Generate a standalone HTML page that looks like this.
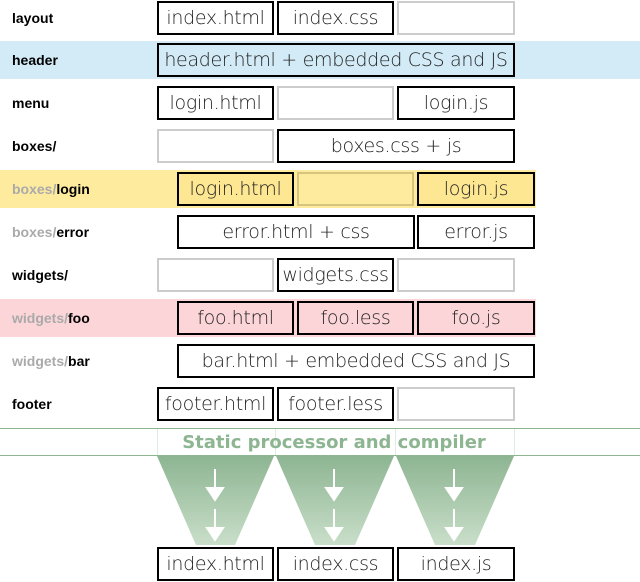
<!DOCTYPE html>
<html><head><meta charset="utf-8"><style>
body{margin:0;width:640px;height:582px;position:relative;background:#fff;font-family:"Liberation Sans",sans-serif;overflow:hidden}
.b{position:absolute;box-sizing:border-box;height:34px;border:2px solid #000;font-size:19px;color:#222;text-align:center;line-height:30px;font-family:"DejaVu Sans","Liberation Sans",sans-serif;font-weight:200;white-space:nowrap;letter-spacing:-0.3px}
.g{border-color:#ccc}
.l{position:absolute;left:12px;font-weight:bold;font-size:14px;color:#000;line-height:34px}
.l span{color:#aaa}
.band{position:absolute;left:0;height:38px}
</style></head><body>
<div class="band" style="top:41px;width:640px;background:#d2ebf6"></div>
<div class="band" style="top:170px;width:536px;background:#feeb9e"></div>
<div class="band" style="top:299px;width:536px;background:#fcd5d8"></div>

<div class="l" style="top:1px">layout</div>
<div class="b" style="left:157px;top:1px;width:117px">index.html</div>
<div class="b" style="left:277px;top:1px;width:117px">index.css</div>
<div class="b g" style="left:397px;top:1px;width:118px"></div>

<div class="l" style="top:43px">header</div>
<div class="b" style="left:157px;top:43px;width:358px;background:#d2ebf6">header.html + embedded CSS and JS</div>

<div class="l" style="top:86px">menu</div>
<div class="b" style="left:157px;top:86px;width:117px">login.html</div>
<div class="b g" style="left:277px;top:86px;width:117px"></div>
<div class="b" style="left:397px;top:86px;width:118px">login.js</div>

<div class="l" style="top:129px">boxes/</div>
<div class="b g" style="left:157px;top:129px;width:117px"></div>
<div class="b" style="left:277px;top:129px;width:238px">boxes.css + js</div>

<div class="l" style="top:172px"><span>boxes/</span>login</div>
<div class="b" style="left:177px;top:172px;width:117px;background:#fde792">login.html</div>
<div class="b" style="left:297px;top:172px;width:117px;border-color:#d6c57e"></div>
<div class="b" style="left:417px;top:172px;width:118px;background:#fde792">login.js</div>

<div class="l" style="top:215px"><span>boxes/</span>error</div>
<div class="b" style="left:177px;top:215px;width:238px">error.html + css</div>
<div class="b" style="left:417px;top:215px;width:118px">error.js</div>

<div class="l" style="top:258px">widgets/</div>
<div class="b g" style="left:157px;top:258px;width:117px"></div>
<div class="b" style="left:277px;top:258px;width:117px">widgets.css</div>
<div class="b g" style="left:397px;top:258px;width:118px"></div>

<div class="l" style="top:301px"><span>widgets/</span>foo</div>
<div class="b" style="left:177px;top:301px;width:117px">foo.html</div>
<div class="b" style="left:297px;top:301px;width:117px">foo.less</div>
<div class="b" style="left:417px;top:301px;width:118px">foo.js</div>

<div class="l" style="top:344px"><span>widgets/</span>bar</div>
<div class="b" style="left:177px;top:344px;width:358px">bar.html + embedded CSS and JS</div>

<div class="l" style="top:387px">footer</div>
<div class="b" style="left:157px;top:387px;width:117px">footer.html</div>
<div class="b" style="left:277px;top:387px;width:117px">footer.less</div>
<div class="b g" style="left:397px;top:387px;width:118px"></div>

<svg style="position:absolute;left:0;top:0" width="640" height="582">
<defs><linearGradient id="gr" x1="0" y1="0" x2="0" y2="1"><stop offset="0" stop-color="#8db592"/><stop offset="1" stop-color="#c9dec9"/></linearGradient></defs>
<line x1="0" y1="428.5" x2="640" y2="428.5" stroke="#8db592"/>
<line x1="0" y1="455.5" x2="640" y2="455.5" stroke="#8db592"/>
<g stroke="#dfece0"><line x1="157.5" y1="429" x2="157.5" y2="455"/><line x1="275.5" y1="429" x2="275.5" y2="455"/><line x1="395.5" y1="429" x2="395.5" y2="455"/><line x1="514.5" y1="429" x2="514.5" y2="455"/></g>
<text x="334" y="448" text-anchor="middle" font-family="DejaVu Sans,sans-serif" font-weight="bold" font-size="18" fill="#8db592">Static processor and compiler</text>
<polygon points="157,456 274,456 235,545 196,545" fill="url(#gr)"/>
<polygon points="276,456 394,456 355,545 315,545" fill="url(#gr)"/>
<polygon points="396,456 514,456 475,545 435,545" fill="url(#gr)"/>
<g stroke="#fff" stroke-width="2" fill="#fff">
<line x1="215" y1="469" x2="215" y2="495"/><polygon points="207,488 223,488 215,500"/>
<line x1="215" y1="509" x2="215" y2="535"/><polygon points="207,528 223,528 215,540"/>
<line x1="334" y1="469" x2="334" y2="495"/><polygon points="326,488 342,488 334,500"/>
<line x1="334" y1="509" x2="334" y2="535"/><polygon points="326,528 342,528 334,540"/>
<line x1="454" y1="469" x2="454" y2="495"/><polygon points="446,488 462,488 454,500"/>
<line x1="454" y1="509" x2="454" y2="535"/><polygon points="446,528 462,528 454,540"/>
</g>
</svg>

<div class="b" style="left:157px;top:547px;width:117px">index.html</div>
<div class="b" style="left:277px;top:547px;width:117px">index.css</div>
<div class="b" style="left:397px;top:547px;width:118px">index.js</div>
</body></html>
